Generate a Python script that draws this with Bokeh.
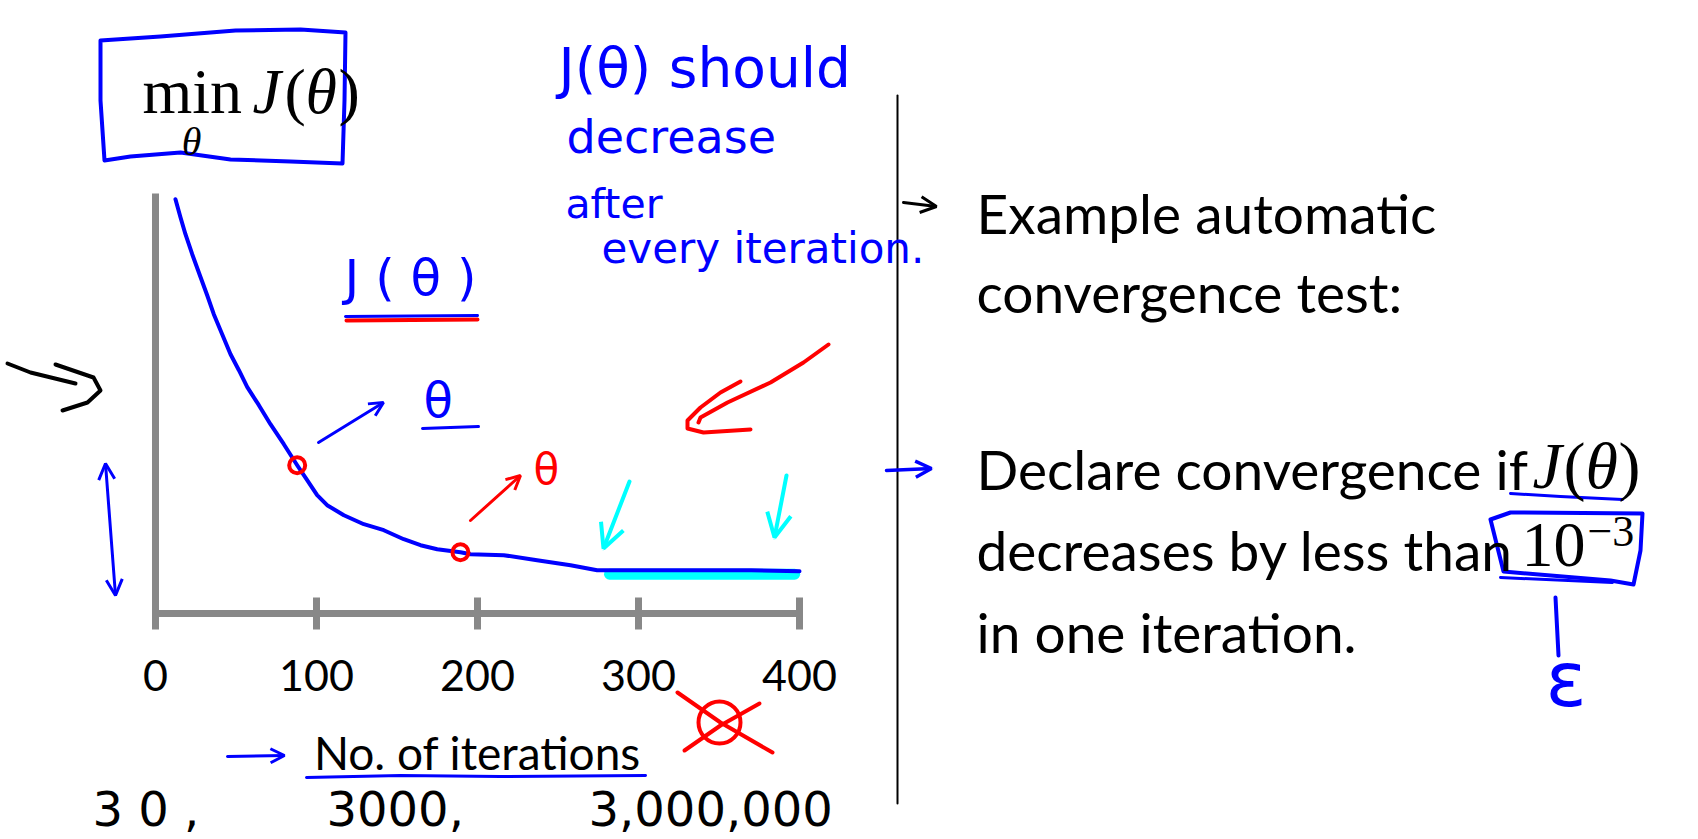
from bokeh.plotting import figure
from bokeh.models import Range1d, LinearAxis, FixedTicker, Label, Arrow, OpenHead
from bokeh.embed import file_html
from bokeh.resources import INLINE

# ---------------- data ----------------
iterations = [12.4, 15.5, 18.6, 22.8, 28.0, 32.1, 36.2, 41.4, 46.6, 51.8, 57.0, 64.2, 71.4, 79.7,
              88.0, 94.2, 100.4, 106.6, 117.0, 129.4, 141.8, 154.2, 164.6, 175.0, 189.4, 195.7,
              216.3, 237.0, 257.8, 274.3, 290, 330, 370, 400]
cost = [4.14, 3.96, 3.79, 3.59, 3.36, 3.18, 2.99, 2.79, 2.59, 2.43, 2.26, 2.08, 1.89, 1.69,
        1.48, 1.33, 1.18, 1.08, 0.98, 0.89, 0.83, 0.74, 0.68, 0.64, 0.61, 0.59,
        0.58, 0.53, 0.48, 0.43, 0.43, 0.43, 0.43, 0.42]
marked_iterations = [88, 189.4]
marked_cost = [1.48, 0.61]
converged_iterations = [282, 397]
converged_cost = [0.39, 0.39]
x_ticks = [0, 100, 200, 300, 400]
x_label = "No. of iterations"
bullet1 = ["Example automatic", "convergence test:"]
bullet2 = ["Declare convergence if", "decreases by less than", "in one iteration."]
note_lines = ["J(θ) should", "decrease", "after", "every  iteration."]
bottom_notes = ["3 0 ,", "3000,", "3,000,000"]

# ---------------- page geometry ----------------
LEFT, TOP = 0, 0
W, H = 1698, 839
X0_PX, PX_PER_ITER = 155.0, 1.61
Y0_PX, PX_PER_COST = 612.7, 100.0


def X(px):
    return (px - X0_PX) / PX_PER_ITER


def Y(py):
    return (Y0_PX - py) / PX_PER_COST


p = figure(width=W, height=H, x_range=Range1d(X(LEFT), X(LEFT + W)),
           y_range=Range1d(Y(TOP + H), Y(TOP)), output_backend="svg",
           toolbar_location=None, x_axis_location=None, y_axis_location=None,
           min_border=0)
p.outline_line_color = None
p.grid.visible = False
p.background_fill_color = "white"
p.border_fill_color = "white"

BLUE = "#0000ff"
RED = "#ff0000"
CYAN = "#00ffff"
GREY = "#888888"
CAL = "Lato"
HW = "DejaVu Sans"
SERIF = "Liberation Serif"


def stroke(pts, color, width):
    p.line([X(a) for a, b in pts], [Y(b) for a, b in pts], line_color=color,
           line_width=width, line_cap="round", line_join="round")


def arrow(x0, y0, x1, y1, color, width, size, both=False):
    head = dict(size=size, line_color=color, line_width=width)
    p.add_layout(Arrow(x_start=X(x0), y_start=Y(y0), x_end=X(x1), y_end=Y(y1),
                       line_color=color, line_width=width, line_cap="round",
                       end=OpenHead(**head), start=OpenHead(**head) if both else None))


def label(px, py, text, font, size, color="black", style="normal", align="left"):
    # py is the wanted baseline; correct for where the text is actually drawn
    p.add_layout(Label(x=X(px), y=Y(py - 0.37 * size), text=text, text_font=font,
                       text_font_size=f"{size}px", text_color=color,
                       text_font_style=style, text_align=align,
                       text_baseline="alphabetic"))


# ---------------- axes ----------------
xaxis = LinearAxis(fixed_location=0, bounds=(0, 400), ticker=FixedTicker(ticks=x_ticks))
xaxis.axis_line_width = 7
xaxis.axis_line_color = GREY
xaxis.major_tick_line_width = 7
xaxis.major_tick_line_color = GREY
xaxis.major_tick_in = 16
xaxis.major_tick_out = 16
xaxis.minor_tick_line_color = None
xaxis.major_label_text_font = CAL
xaxis.major_label_text_font_size = "43px"
xaxis.major_label_text_color = "black"
xaxis.major_label_standoff = 31
xaxis.axis_label = x_label
xaxis.axis_label_text_font = CAL
xaxis.axis_label_text_font_size = "46px"
xaxis.axis_label_text_font_style = "normal"
xaxis.axis_label_text_color = "black"
xaxis.axis_label_standoff = 30
p.add_layout(xaxis, "below")

yaxis = LinearAxis(fixed_location=0, bounds=(Y(628), Y(193)), ticker=FixedTicker(ticks=[]))
yaxis.axis_line_width = 7
yaxis.axis_line_color = GREY
yaxis.major_tick_line_color = None
yaxis.minor_tick_line_color = None
yaxis.major_label_text_font_size = "0px"
p.add_layout(yaxis, "left")

# ---------------- data marks ----------------
p.line(converged_iterations, converged_cost, line_color=CYAN, line_width=11, line_cap="round")
p.line(iterations, cost, line_color=BLUE, line_width=4, line_cap="round", line_join="round")
p.scatter(marked_iterations, marked_cost, size=16, marker="circle", fill_color=None,
          line_color=RED, line_width=4)

# ---------------- slide text ----------------
label(142, 115, "min", SERIF, 64)
label(252, 115, "J", SERIF, 64, style="italic")
label(284, 115, "(", SERIF, 64)
label(305, 115, "θ", SERIF, 64, style="italic")
label(338, 115, ")", SERIF, 64)
label(191, 156, "θ", SERIF, 40, style="italic", align="center")

label(976, 233, bullet1[0], CAL, 55)
label(976, 312, bullet1[1], CAL, 55)
label(976, 489, bullet2[0], CAL, 55)
label(976, 570, bullet2[1], CAL, 55)
label(976, 652, bullet2[2], CAL, 55)
label(1532, 489, "J", SERIF, 66, style="italic")
label(1563, 489, "(", SERIF, 66)
label(1585, 489, "θ", SERIF, 66, style="italic")
label(1618, 489, ")", SERIF, 66)
label(1521, 568, "10", SERIF, 64)
label(1587, 547, "−3", SERIF, 44)

stroke([(897, 95), (897, 803)], "black", 2)

# ---------------- handwritten annotations ----------------
label(558, 88, note_lines[0], HW, 55, color=BLUE)
label(566, 154, note_lines[1], HW, 46, color=BLUE)
label(565, 219, note_lines[2], HW, 41, color=BLUE)
label(601, 264, note_lines[3], HW, 42, color=BLUE)

# box around min J(theta)
stroke([(100, 40), (160, 36), (235, 30), (300, 29), (345, 32), (344, 100), (342, 163),
        (290, 161), (230, 159), (180, 152), (130, 156), (104, 160), (100, 100), (100, 40)], BLUE, 4)

# J(theta) and theta labels inside the chart
label(344, 296, "J ( θ )", HW, 50, color=BLUE)
stroke([(345, 316), (477, 315)], BLUE, 3)
stroke([(346, 320), (477, 319)], RED, 4)
label(423, 417, "θ", HW, 48, color=BLUE)
stroke([(422, 428), (478, 426)], BLUE, 3)
arrow(318, 442, 383, 402, BLUE, 3, 14)

arrow(470, 520, 520, 475, RED, 3, 14)
label(533, 485, "θ", HW, 42, color=RED)

# big red arrow
stroke([(828, 344), (803, 362), (770, 382), (727, 402), (700, 417), (698, 422)], RED, 4)
stroke([(740, 381), (720, 392), (700, 407), (687, 420), (687, 428), (703, 432), (750, 429)], RED, 4)

# cyan arrows
arrow(629, 481, 603, 548, CYAN, 4, 24)
arrow(786, 475, 774, 537, CYAN, 4, 24)

# double arrow on the left
arrow(105, 463, 115, 595, BLUE, 3, 16, both=True)

# black hook
stroke([(7, 363), (30, 372), (75, 383)], "black", 4)
stroke([(55, 364), (93, 377), (100, 390), (87, 402), (62, 410)], "black", 4)

# arrow + underline at the x label
arrow(227, 756, 284, 755, BLUE, 3, 14)
stroke([(306, 777), (400, 775), (500, 776), (645, 775)], BLUE, 3)

# red crossed circle
p.scatter([X(719)], [Y(722)], size=42, marker="circle", fill_color=None, line_color=RED, line_width=4)
stroke([(677, 692), (720, 722), (772, 752)], RED, 4)
stroke([(759, 703), (720, 725), (684, 750)], RED, 4)

# bottom handwritten numbers
label(92, 826, bottom_notes[0], HW, 48)
label(326, 826, bottom_notes[1], HW, 48)
label(588, 826, bottom_notes[2], HW, 48)

# right side marks
arrow(903, 202, 936, 206, "black", 3, 16)
arrow(886, 470, 931, 468, BLUE, 3.5, 16)
stroke([(1510, 493), (1560, 496), (1622, 499)], BLUE, 3)
stroke([(1490, 519), (1510, 512), (1642, 513), (1640, 550), (1633, 584), (1610, 580),
        (1503, 571), (1490, 519)], BLUE, 4)
stroke([(1500, 577), (1612, 582)], BLUE, 3)
stroke([(1555, 597), (1558, 655)], BLUE, 4)
label(1545, 707, "ε", HW, 76, color=BLUE)

open("out.html", "w").write(file_html(p, INLINE))
